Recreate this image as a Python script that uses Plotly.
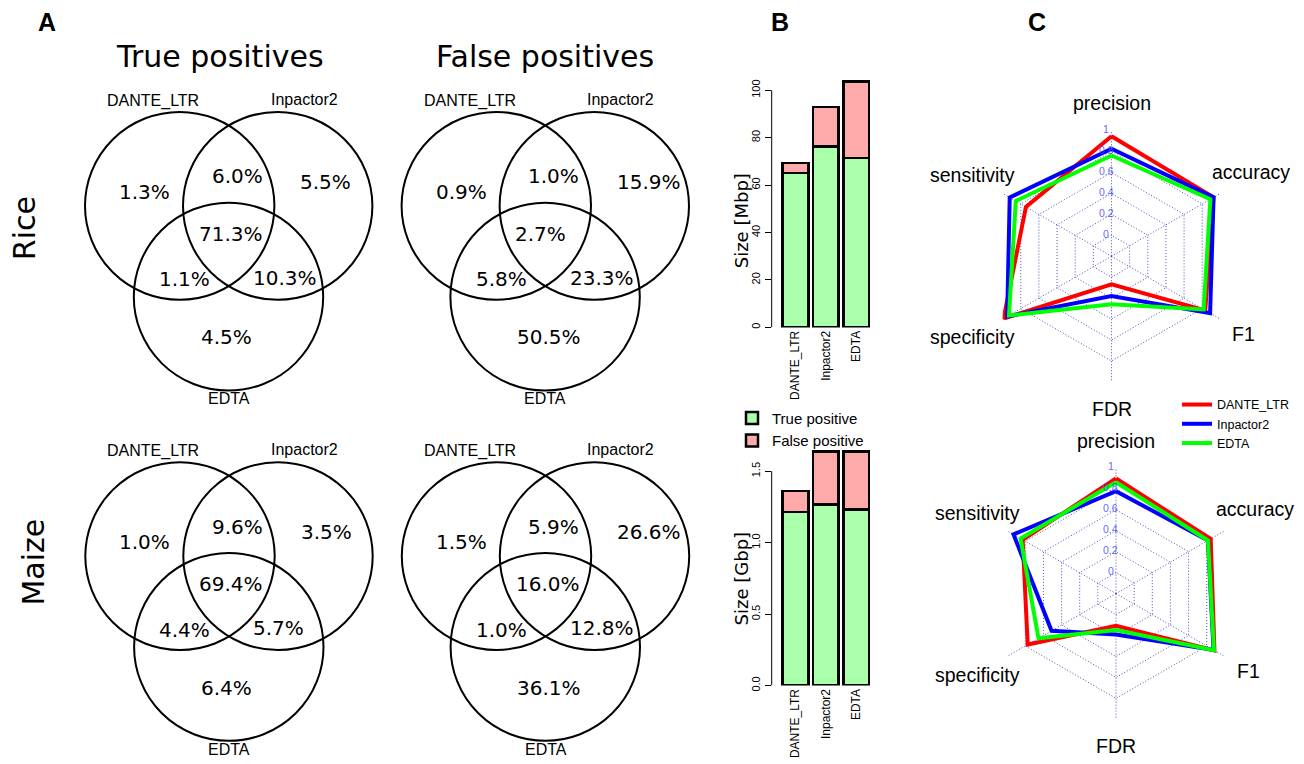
import plotly.graph_objects as go

W, H = 1304, 764

# ---------------- data ----------------
methods = ["DANTE_LTR", "Inpactor2", "EDTA"]
method_colors = ["#FF0000", "#0000FF", "#00FF00"]

# Venn region percentages, order: DANTE only, DANTE&Inp, Inp only, all three, DANTE&EDTA, Inp&EDTA, EDTA only
rice_tp_pct = [1.3, 6.0, 5.5, 71.3, 1.1, 10.3, 4.5]
rice_fp_pct = [0.9, 1.0, 15.9, 2.7, 5.8, 23.3, 50.5]
maize_tp_pct = [1.0, 9.6, 3.5, 69.4, 4.4, 5.7, 6.4]
maize_fp_pct = [1.5, 5.9, 26.6, 16.0, 1.0, 12.8, 36.1]

# Bar sizes
rice_tp_mbp = [65.1, 76.3, 71.4]
rice_fp_mbp = [4.2, 16.7, 32.2]
maize_tp_gbp = [1.215, 1.269, 1.234]
maize_fp_gbp = [0.146, 0.370, 0.405]
rice_yticks = [0, 20, 40, 60, 80, 100]
maize_yticks = [0.0, 0.5, 1.0, 1.5]
maize_yticklabels = ["0.0", "0.5", "1.0", "1.5"]

# Radar metrics
metrics = ["precision", "sensitivity", "specificity", "FDR", "F1", "accuracy"]
rice_dante = [0.946, 0.743, 0.99, 0.069, 0.833, 0.925]
rice_inpactor = [0.826, 0.922, 0.95, 0.179, 0.887, 0.925]
rice_edta = [0.762, 0.855, 0.93, 0.258, 0.816, 0.89]
maize_dante = [0.899, 0.829, 0.773, 0.107, 0.885, 0.844]
maize_inpactor = [0.778, 0.930, 0.51, 0.19, 0.875, 0.814]
maize_edta = [0.863, 0.852, 0.654, 0.148, 0.88, 0.814]
radar_ticks = [0, 0.2, 0.4, 0.6, 0.8, 1]
radar_ticklabels = ["0", "0.2", "0.4", "0.6", "0.8", "1"]

# ---------------- layout constants ----------------
PCT_FONT = dict(family="DejaVu Sans", size=20, color="black")
LAB_FONT = dict(family="Liberation Sans, Arial", size=16, color="black")
ARIAL = "Liberation Sans, Arial"

fig = go.Figure()

# full-page pixel axis (for venn diagrams and text)
fig.add_trace(go.Scatter(x=[0], y=[0], mode="markers", marker=dict(opacity=0),
                         showlegend=False, hoverinfo="skip", xaxis="x", yaxis="y"))

shapes = []
annotations = []

# Venn geometry (relative to DANTE circle centre, pixels)
R_V = 94.7
circle_offsets = [(0, 0), (98, 0), (48.8, 91.5)]
region_offsets = [(-62.8, -14.2), (29.8, -29.8), (118.5, -24.2), (17, 28.2),
                  (-22.8, 74.2), (71.2, 72.5), (18.8, 132.5)]
name_offsets = [(-26.8, -105.8), (124.4, -107.5), (49, 194.5)]

venn_panels = [
    (179.7, 207.5, rice_tp_pct),
    (496.3, 207.5, rice_fp_pct),
    (180.0, 560.5, maize_tp_pct),
    (496.5, 560.5, maize_fp_pct),
]
for cx, cy, pct in venn_panels:
    for dx, dy in circle_offsets:
        shapes.append(dict(type="circle", xref="x", yref="y",
                           x0=cx + dx - R_V, x1=cx + dx + R_V,
                           y0=cy + dy - R_V, y1=cy + dy + R_V,
                           line=dict(color="black", width=2)))
    for (dx, dy), v in zip(region_offsets, pct):
        annotations.append(dict(x=cx + dx, y=cy + dy, xref="x", yref="y",
                                text=f"{v:.1f}%", showarrow=False, xanchor="left",
                                yanchor="middle", font=PCT_FONT))
    for (dx, dy), nm in zip(name_offsets, methods):
        annotations.append(dict(x=cx + dx, y=cy + dy, xref="x", yref="y", text=nm,
                                showarrow=False, xanchor="center", yanchor="middle",
                                font=LAB_FONT))

# titles and row labels
for txt, x, y in [("True positives", 220, 56.7), ("False positives", 544.7, 56.7)]:
    annotations.append(dict(x=x, y=y, xref="x", yref="y", text=txt, showarrow=False,
                            xanchor="center", yanchor="middle",
                            font=dict(family="DejaVu Sans", size=30, color="black")))
for txt, x, y in [("Rice", 24, 230), ("Maize", 34, 567)]:
    annotations.append(dict(x=x, y=y, xref="x", yref="y", text=txt, showarrow=False,
                            textangle=-90, xanchor="center", yanchor="middle",
                            font=dict(family="DejaVu Sans", size=30, color="black")))
for txt, x, y in [("<b>A</b>", 47, 22), ("<b>B</b>", 780, 22), ("<b>C</b>", 1037, 22)]:
    annotations.append(dict(x=x, y=y, xref="x", yref="y", text=txt, showarrow=False,
                            xanchor="center", yanchor="middle",
                            font=dict(family=ARIAL, size=25, color="black")))
for txt, x, y in [("Size [Mbp]", 741, 223), ("Size [Gbp]", 741, 583)]:
    annotations.append(dict(x=x, y=y, xref="x", yref="y", text=txt, showarrow=False,
                            textangle=-90, xanchor="center", yanchor="middle",
                            font=dict(family="DejaVu Sans", size=18, color="black")))

# ---------------- bars ----------------
GREEN_BAR = "#AAFFAA"
PINK_BAR = "#FFAAAA"
for tp, fp, xa, ya, show in [(rice_tp_mbp, rice_fp_mbp, "x2", "y2", True),
                             (maize_tp_gbp, maize_fp_gbp, "x3", "y3", False)]:
    fig.add_trace(go.Bar(x=methods, y=tp, name="True positive", marker_color=GREEN_BAR,
                         marker_line=dict(color="black", width=2.5), xaxis=xa, yaxis=ya,
                         showlegend=show, legend="legend"))
    fig.add_trace(go.Bar(x=methods, y=fp, name="False positive", marker_color=PINK_BAR,
                         marker_line=dict(color="black", width=2.5), xaxis=xa, yaxis=ya,
                         showlegend=show, legend="legend"))

bar_xdom = [771.7 / W, 880.1 / W]
bar_xrange = [-0.783, 2.783]
xcommon = dict(domain=bar_xdom, range=bar_xrange, type="category", tickangle=-90,
               ticks="", showline=False, showgrid=False, zeroline=False,
               tickfont=dict(family=ARIAL, size=12, color="black"), fixedrange=True)
ycommon = dict(ticks="outside", ticklen=6, tickwidth=1, tickcolor="black", tickangle=-90,
               showline=False, showgrid=False, zeroline=False,
               tickfont=dict(family=ARIAL, size=11, color="black"), fixedrange=True)

# axis lines spanning only the tick range (R style)
shapes.append(dict(type="line", xref="x2 domain", yref="y2", x0=0, x1=0,
                   y0=rice_yticks[0], y1=rice_yticks[-1], line=dict(color="black", width=1)))
shapes.append(dict(type="line", xref="x3 domain", yref="y3", x0=0, x1=0,
                   y0=maize_yticks[0], y1=maize_yticks[-1], line=dict(color="black", width=1)))

# ---------------- radar ----------------
radar_sets = [
    ("polar", [rice_dante, rice_inpactor, rice_edta], True),
    ("polar2", [maize_dante, maize_inpactor, maize_edta], False),
]
for sub, series, show in radar_sets:
    for name, col, vals in zip(methods, method_colors, series):
        fig.add_trace(go.Scatterpolar(r=vals + vals[:1], theta=metrics + metrics[:1],
                                      mode="lines", name=name,
                                      line=dict(color=col, width=4),
                                      subplot=sub, showlegend=show, legend="legend2"))

RADAR_R = 126.7
R_MIN = -0.2
radar_centres = [(1111.5, 258.3), (1116.0, 598.3)]
label_offsets = [(0, -154), (-139, -81.6), (-139, 81.7), (0, 153.7), (132, 78.4), (139, -85)]
for cx, cy in radar_centres:
    for (dx, dy), m in zip(label_offsets, metrics):
        annotations.append(dict(x=cx + dx, y=cy + dy, xref="x", yref="y", text=m,
                                showarrow=False, xanchor="center", yanchor="middle",
                                font=dict(family=ARIAL, size=19.5, color="black")))
    # radial tick labels (fmsb style: upright, along the top spoke)
    for tv, tl in zip(radar_ticks, radar_ticklabels):
        rpx = (tv - R_MIN) / (1 - R_MIN) * RADAR_R
        annotations.append(dict(x=cx - 5.5, y=cy - rpx - 1.5, xref="x", yref="y", text=tl,
                                showarrow=False, xanchor="center", yanchor="middle",
                                font=dict(family=ARIAL, size=10.5,
                                          color="rgba(70,70,255,0.85)")))

GRIDCOL = "rgba(60,60,180,0.9)"


def polar_layout(cx, cy):
    return dict(
        domain=dict(x=[(cx - RADAR_R) / W, (cx + RADAR_R) / W],
                    y=[(H - cy - RADAR_R) / H, (H - cy + RADAR_R) / H]),
        gridshape="linear",
        bgcolor="rgba(0,0,0,0)",
        radialaxis=dict(range=[R_MIN, 1.0], tickvals=radar_ticks, showticklabels=False,
                        angle=90, showline=False, ticks="",
                        gridcolor=GRIDCOL, griddash="1px,2px", gridwidth=1),
        angularaxis=dict(categoryarray=metrics, categoryorder="array", rotation=90,
                         direction="counterclockwise", showticklabels=False, ticks="",
                         showline=False, gridcolor=GRIDCOL, griddash="1px,2px", gridwidth=1),
    )


fig.update_layout(
    width=W, height=H, autosize=False,
    margin=dict(l=0, r=0, t=0, b=0),
    paper_bgcolor="white", plot_bgcolor="rgba(0,0,0,0)",
    barmode="stack", bargap=0.155,
    xaxis=dict(domain=[0, 1], range=[0, W], visible=False, fixedrange=True),
    yaxis=dict(domain=[0, 1], range=[H, 0], visible=False, fixedrange=True),
    xaxis2=dict(anchor="y2", **xcommon),
    yaxis2=dict(anchor="x2", domain=[(H - 330) / H, (H - 78) / H],
                range=[0, 252 / 2.39], tickvals=rice_yticks, **ycommon),
    xaxis3=dict(anchor="y3", **xcommon),
    yaxis3=dict(anchor="x3", domain=[(H - 691) / H, (H - 450) / H],
                range=[0, 241 / 144.0], tickvals=maize_yticks,
                ticktext=maize_yticklabels, **ycommon),
    polar=polar_layout(*radar_centres[0]),
    polar2=polar_layout(*radar_centres[1]),
    legend=dict(x=732 / W, y=(H - 405) / H, xanchor="left", yanchor="top",
                traceorder="normal", bgcolor="rgba(0,0,0,0)",
                font=dict(family=ARIAL, size=15, color="black")),
    legend2=dict(x=1177 / W, y=(H - 393) / H, xanchor="left", yanchor="top",
                 traceorder="normal", bgcolor="rgba(0,0,0,0)",
                 font=dict(family=ARIAL, size=12.5, color="black")),
    shapes=shapes,
    annotations=annotations,
    showlegend=True,
)

fig.write_html("out.html", config={"displayModeBar": False},
               post_script="document.body.style.margin='0';document.body.style.overflow='hidden';")
